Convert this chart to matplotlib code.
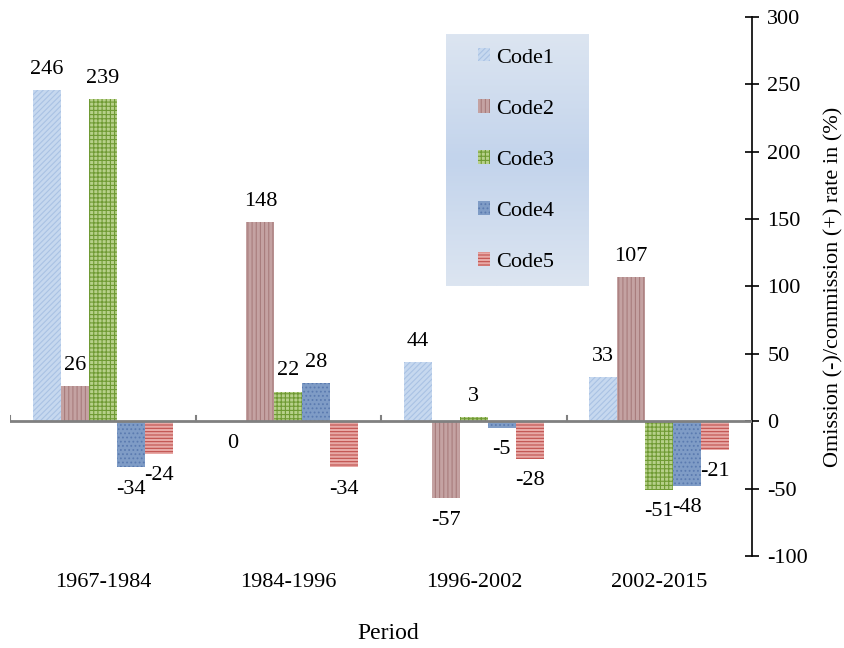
import numpy as np
import matplotlib.pyplot as plt

plt.rcParams['font.family'] = ['Liberation Serif', 'DejaVu Serif']
plt.rcParams['font.size'] = 16
plt.rcParams['axes.unicode_minus'] = False
plt.rcParams['hatch.linewidth'] = 0.8

periods = ['1967-1984', '1984-1996', '1996-2002', '2002-2015']
codes = ['Code1', 'Code2', 'Code3', 'Code4', 'Code5']
code1 = [246, 0, 44, 33]
code2 = [26, 148, -57, 107]
code3 = [239, 22, 3, -51]
code4 = [-34, 28, -5, -48]
code5 = [-24, -34, -28, -21]

series = [code1, code2, code3, code4, code5]
faces = ['#c6d8ef', '#c4a2a2', '#b7d08a', '#7f9cc6', '#e8a9a6']
hatch_cols = ['#a9c2e4', '#a87c7c', '#6f9a33', '#5b7bb0', '#c0504d']
hatches = ['//////', '||||', '++++', '....', '-----']

fig = plt.figure(figsize=(8.44, 6.48), dpi=100)

# gradient background for the legend box
bg = fig.add_axes([446 / 844, 1 - 286 / 648, 142 / 844, 252 / 648], zorder=0)
grad = np.abs(np.linspace(-1, 1, 100))[:, None]
bg.imshow(grad, cmap=plt.matplotlib.colors.LinearSegmentedColormap.from_list(
    'g', ['#c3d4ec', '#dce5f1']), aspect='auto', extent=[0, 1, 0, 1])
bg.axis('off')

ax = fig.add_axes([0.012, 0.142, 0.879, 0.832], zorder=1)
ax.patch.set_alpha(0)

x = np.arange(len(periods))
w = 0.151
for i, vals in enumerate(series):
    pos = x + (i - 2) * w
    ax.bar(pos, vals, w, color=faces[i], hatch=hatches[i],
           edgecolor=hatch_cols[i], linewidth=0, label=codes[i])
    for xp, v in zip(pos, vals):
        if v > 0:
            ax.annotate(str(v), (xp, v), xytext=(0, 8), textcoords='offset points',
                        ha='center', va='bottom')
        else:
            ax.annotate(str(v), (xp, v), xytext=(0, -9), textcoords='offset points',
                        ha='center', va='top')

ax.set_xlim(-0.5, len(periods) - 0.5)
ax.set_ylim(-100, 300)

# zero line with small category separators
ax.axhline(0, color='#808080', lw=2, zorder=3)
for b in np.arange(-0.5, len(periods) - 0.4, 1.0)[:-1]:
    ax.plot([b, b], [0, 4], color='#808080', lw=1.5, zorder=3)

for s in ['left', 'top', 'bottom']:
    ax.spines[s].set_visible(False)
ax.spines['right'].set_linewidth(1.2)
ax.yaxis.tick_right()
ax.yaxis.set_label_position('right')
ax.set_yticks(np.arange(-100, 301, 50))
ax.tick_params(axis='y', direction='inout', length=10, width=1.2, pad=6)
ax.set_ylabel('Omission (-)/commission (+) rate in (%)', labelpad=12)

ax.set_xticks(x)
ax.set_xticklabels(periods)
ax.tick_params(axis='x', length=0, pad=12)
ax.set_xlabel('Period', fontsize=17)
ax.xaxis.set_label_coords(0.51, -0.125)

leg = ax.legend(loc='upper left', bbox_to_anchor=(478 / 844, 1 - 48 / 648),
                bbox_transform=fig.transFigure, frameon=False,
                labelspacing=1.42, handlelength=0.55, handleheight=0.55,
                handletextpad=0.25, borderpad=0, borderaxespad=0)

fig.savefig('out.png', dpi=100)
